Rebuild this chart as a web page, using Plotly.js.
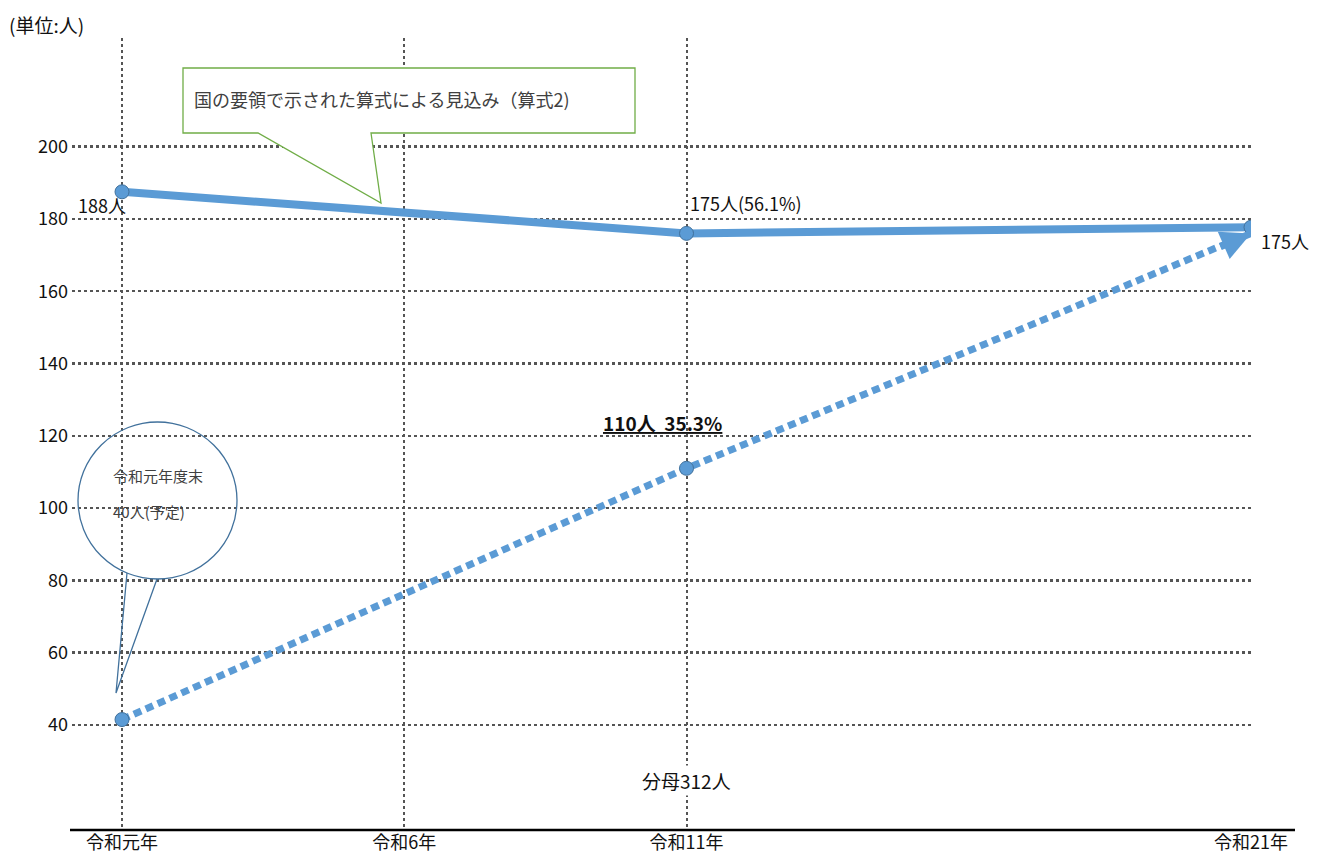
<!DOCTYPE html>
<html><head><meta charset="utf-8">
<script src="https://cdn.plot.ly/plotly-3.0.1.min.js"></script>
<style>html,body{margin:0;padding:0;background:#fff;}#chart{width:1319px;height:866px;}</style>
</head><body><div id="chart"></div>
<script>
// ---- data ----
const categories = ['令和元年', '令和6年', '令和11年', '令和21年'];
const categoryYears = [1, 6, 11, 21];
const pointYears = [1, 11, 21];
const formulaEstimate = [187.5, 176, 177.7];          // 国の要領で示された算式による見込み（算式2）
const formulaLabels = ['188人', '175人(56.1%)', '175人'];
const targetSeries = [41.5, 111, 176];                // 目標（点線）
const targetLabel = '110人  35.3%';
const yTicks = [40, 60, 80, 100, 120, 140, 160, 180, 200];
const denominatorLabel = '分母312人';
const unitLabel = '(単位:人)';
const calloutText = '国の要領で示された算式による見込み（算式2)';
const ovalLines = ['令和元年度末', '40人(予定)'];

// ---- layout helpers (pixel -> paper) ----
const M = {l: 72, r: 68, t: 38, b: 36};
const PW = 1319 - M.l - M.r, PH = 866 - M.t - M.b;
const px = x => (x - M.l) / PW;
const py = y => (866 - M.b - y) / PH;
const FONT = '"Noto Sans CJK JP", "Noto Sans", sans-serif';
const BLUE = '#5B9BD5', BLUE_DARK = '#41719C';

const traces = [
  {x: pointYears, y: formulaEstimate, mode: 'lines+markers', type: 'scatter',
   line: {color: BLUE, width: 8},
   marker: {size: 14, color: BLUE, line: {color: BLUE_DARK, width: 1}},
   hoverinfo: 'skip', showlegend: false},
  {x: pointYears, y: targetSeries, mode: 'lines', type: 'scatter',
   line: {color: BLUE, width: 7, dash: '8px,5px'},
   hoverinfo: 'skip', showlegend: false},
  {x: pointYears.slice(0, 2), y: targetSeries.slice(0, 2), mode: 'markers', type: 'scatter',
   marker: {size: 14, color: BLUE, line: {color: BLUE_DARK, width: 1}},
   hoverinfo: 'skip', showlegend: false}
];

const n = pointYears.length - 1;
const annotations = [
  {x: pointYears[0], y: formulaEstimate[0], text: formulaLabels[0], showarrow: false,
   xanchor: 'right', yanchor: 'middle', xshift: 6, yshift: -13, font: {family: FONT, size: 18, color: '#111'}},
  {x: pointYears[1], y: formulaEstimate[1], text: formulaLabels[1], showarrow: false,
   xanchor: 'left', yanchor: 'middle', xshift: 1, yshift: 30, font: {family: FONT, size: 18, color: '#111'}},
  {x: pointYears[n], y: formulaEstimate[n], text: formulaLabels[n], showarrow: false,
   xanchor: 'left', yanchor: 'middle', xshift: 8, yshift: -14, font: {family: FONT, size: 18, color: '#111'}},
  {x: pointYears[1], y: targetSeries[1], text: '<b><u>' + targetLabel + '</u></b>', showarrow: false,
   xanchor: 'center', yanchor: 'middle', xshift: -24, yshift: 46, font: {family: FONT, size: 19, color: '#111'}},
  // arrow head at the end of the dotted line
  {x: pointYears[n], y: targetSeries[n], text: '', showarrow: true, axref: 'pixel', ayref: 'pixel',
   ax: -32, ay: 14, arrowhead: 2, arrowsize: 0.85, arrowwidth: 7, arrowcolor: BLUE, standoff: 0},
  {x: categoryYears[2], xref: 'x', yref: 'paper', y: py(780), text: denominatorLabel, showarrow: false,
   xanchor: 'center', yanchor: 'middle', bgcolor: '#fff', font: {family: FONT, size: 19, color: '#111'}},
  {xref: 'paper', yref: 'paper', x: px(7), y: py(25), text: unitLabel, showarrow: false,
   xanchor: 'left', yanchor: 'middle', font: {family: FONT, size: 19, color: '#111'}},
  {xref: 'paper', yref: 'paper', x: px(192), y: py(99), text: calloutText, showarrow: false,
   xanchor: 'left', yanchor: 'middle', font: {family: FONT, size: 18, color: '#404040'}},
  {xref: 'paper', yref: 'paper', x: px(111), y: py(476), text: ovalLines[0], showarrow: false,
   xanchor: 'left', yanchor: 'middle', font: {family: FONT, size: 15, color: '#404040'}},
  {xref: 'paper', yref: 'paper', x: px(111), y: py(511), text: ovalLines[1], showarrow: false,
   xanchor: 'left', yanchor: 'middle', font: {family: FONT, size: 15, color: '#404040'}}
];

const rectPath = 'M' + [[183,68],[635,68],[635,133],[371,133],[381,203],[258,133],[183,133]]
  .map(p => px(p[0]) + ',' + py(p[1])).join(' L') + ' Z';
const tailPath = 'M' + [[127,573],[116,693],[157,579]].map(p => px(p[0]) + ',' + py(p[1])).join(' L');

const shapes = [
  {type: 'line', xref: 'paper', yref: 'paper', x0: px(70), x1: px(1295), y0: 0, y1: 0,
   line: {color: '#000', width: 2.5}, layer: 'above'},
  {type: 'path', xref: 'paper', yref: 'paper', path: rectPath, fillcolor: '#fff',
   line: {color: '#70AD47', width: 1.3}, layer: 'above'},
  {type: 'circle', xref: 'paper', yref: 'paper', x0: px(78), x1: px(237), y0: py(579), y1: py(422),
   line: {color: BLUE_DARK, width: 1.3}, fillcolor: 'rgba(0,0,0,0)', layer: 'above'},
  {type: 'path', xref: 'paper', yref: 'paper', path: tailPath, fillcolor: 'rgba(0,0,0,0)',
   line: {color: BLUE_DARK, width: 1.3}, layer: 'above'}
];

const layout = {
  width: 1319, height: 866, margin: M,
  paper_bgcolor: '#fff', plot_bgcolor: '#fff',
  font: {family: FONT, color: '#111'},
  showlegend: false,
  xaxis: {type: 'linear', range: [0.114, 21], tickvals: categoryYears, ticktext: categories,
          showgrid: true, gridcolor: '#555', gridwidth: 2, griddash: 'dot',
          zeroline: false, showline: false, ticks: '',
          tickfont: {family: FONT, size: 18, color: '#111'}, fixedrange: true},
  yaxis: {range: [10.95, 230.05], tickvals: yTicks, ticktext: yTicks.map(String),
          showgrid: true, gridcolor: '#555', gridwidth: 2.5, griddash: 'dot',
          zeroline: false, showline: false, ticks: '', ticklabelstandoff: 3,
          tickfont: {family: FONT, size: 18, color: '#111'}, fixedrange: true},
  annotations: annotations,
  shapes: shapes
};

Plotly.newPlot('chart', traces, layout, {displayModeBar: false, staticPlot: true});
</script></body></html>
